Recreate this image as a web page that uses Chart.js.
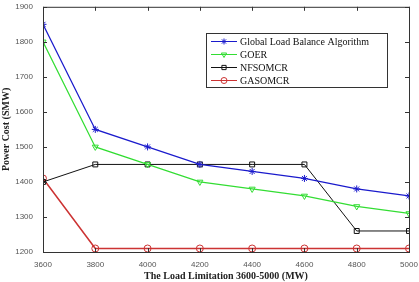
<!DOCTYPE html>
<html>
<head>
<meta charset="utf-8">
<script src="https://cdn.jsdelivr.net/npm/chart.js@4"></script>
<style>
  html, body { margin: 0; padding: 0; background: #fff; }
  #wrap { width: 419px; height: 282px; }
</style>
</head>
<body>
<div id="wrap"><canvas id="powerChart" width="419" height="282"></canvas></div>
<script>
const loads = [3600, 3800, 4000, 4200, 4400, 4600, 4800, 5000];
const globalLB = [1850, 1550, 1500, 1450, 1430, 1410, 1380, 1360];
const goer = [1800, 1500, 1450, 1400, 1380, 1360, 1330, 1310];
const nfsomcr = [1400, 1450, 1450, 1450, 1450, 1450, 1260, 1260];
const gasomcr = [1410, 1210, 1210, 1210, 1210, 1210, 1210, 1210];
const xTicks = [3600, 3800, 4000, 4200, 4400, 4600, 4800, 5000];
const yTicks = [1200, 1300, 1400, 1500, 1600, 1700, 1800, 1900];

const pts = arr => arr.map((v, i) => ({ x: loads[i], y: v }));

// box + inward ticks, matlab style
const frame = {
  id: 'frame',
  afterDatasetsDraw(chart) {
    const { ctx, chartArea: a, scales } = chart;
    ctx.save();
    ctx.strokeStyle = '#333';
    ctx.lineWidth = 1;
    ctx.strokeRect(a.left + 0.5, a.top + 0.5, a.right - a.left, a.bottom - a.top);
    ctx.beginPath();
    xTicks.forEach(t => {
      const x = Math.round(scales.x.getPixelForValue(t)) + 0.5;
      ctx.moveTo(x, a.bottom); ctx.lineTo(x, a.bottom - 4);
      ctx.moveTo(x, a.top); ctx.lineTo(x, a.top + 4);
    });
    yTicks.forEach(t => {
      const y = Math.round(scales.y.getPixelForValue(t)) + 0.5;
      ctx.moveTo(a.left, y); ctx.lineTo(a.left + 4, y);
      ctx.moveTo(a.right, y); ctx.lineTo(a.right - 4, y);
    });
    ctx.stroke();

    // legend box
    const bx = 206.5, by = 33.5, bw = 181, bh = 54;
    ctx.fillStyle = '#fff';
    ctx.fillRect(bx, by, bw, bh);
    ctx.strokeStyle = '#333';
    ctx.strokeRect(bx, by, bw, bh);
    ctx.font = '10px "Liberation Serif", "Times New Roman", serif';
    ctx.textBaseline = 'middle';
    chart.data.datasets.forEach((ds, i) => {
      const y = 41.5 + i * 13;
      ctx.strokeStyle = ds.borderColor;
      ctx.lineWidth = 1;
      ctx.beginPath();
      ctx.moveTo(211, y); ctx.lineTo(237, y);
      ctx.stroke();
      ctx.fillStyle = 'rgba(0,0,0,0)';
      Chart.helpers.drawPoint(ctx, {
        pointStyle: ds.pointStyle, radius: 3, rotation: ds.pointRotation || 0, borderWidth: 1
      }, 224, y);
      ctx.fillStyle = '#111';
      ctx.fillText(ds.label, 240, y + 0.5);
    });
    ctx.restore();
  }
};

const ds = (label, data, color, style, rot, lw) => ({
  label, data: pts(data),
  borderColor: color, backgroundColor: 'rgba(0,0,0,0)',
  borderWidth: lw || 1, pointStyle: style, pointRotation: rot || 0,
  pointRadius: 3.5, pointBorderWidth: 1, pointBorderColor: color,
  pointBackgroundColor: 'rgba(0,0,0,0)', tension: 0
});

const tickFont = { size: 8, family: 'Arial, "Liberation Sans", sans-serif' };
const titleFont = { size: 10, weight: 'bold', family: '"Liberation Serif", "Times New Roman", serif' };

new Chart(document.getElementById('powerChart'), {
  type: 'line',
  data: {
    datasets: [
      ds('Global Load Balance Algorithm', globalLB, '#1a1acc', 'star', 0, 1.2),
      ds('GOER', goer, '#33dd33', 'triangle', 180, 1.2),
      ds('NFSOMCR', nfsomcr, '#111111', 'rect', 0, 1),
      ds('GASOMCR', gasomcr, '#cc3333', 'circle', 0, 1.6)
    ]
  },
  plugins: [frame],
  options: {
    responsive: false,
    animation: false,
    layout: { padding: { top: 5, right: 10, left: 0, bottom: 0 } },
    plugins: { legend: { display: false }, tooltip: { enabled: false } },
    scales: {
      x: {
        type: 'linear', min: 3600, max: 5000,
        afterBuildTicks: s => { s.ticks = xTicks.map(v => ({ value: v })); },
        afterFit: s => { s.height = 30; },
        grid: { display: false }, border: { display: false },
        ticks: { color: '#555', font: tickFont, padding: 0, maxRotation: 0, autoSkip: false, callback: v => String(v) },
        title: { display: true, text: 'The Load Limitation 3600-5000 (MW)', color: '#222', font: titleFont, padding: { top: 1, bottom: 0 } }
      },
      y: {
        min: 1200, max: 1900,
        afterBuildTicks: s => { s.ticks = yTicks.map(v => ({ value: v })); },
        afterFit: s => { s.width = 43; },
        grid: { display: false }, border: { display: false },
        ticks: { color: '#555', font: tickFont, padding: 2, callback: v => String(v) },
        title: { display: true, text: 'Power Cost (SMW)', color: '#222', font: titleFont, padding: { top: 0, bottom: 2 } }
      }
    }
  }
});
</script>
</body>
</html>
